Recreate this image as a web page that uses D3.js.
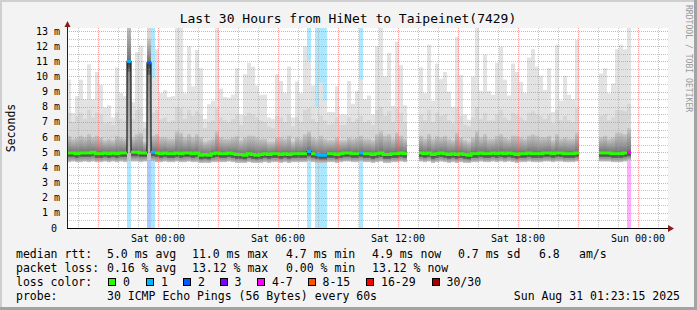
<!DOCTYPE html>
<html>
<head>
<meta charset="utf-8">
<title>Last 30 Hours from HiNet to Taipeinet(7429)</title>
<script src="https://cdn.jsdelivr.net/npm/d3@7"></script>
<style>
  body { margin: 0; background: #f3f3f3; }
  text { font-family: "DejaVu Sans Mono", monospace; fill: #000; }
</style>
</head>
<body>
<svg id="chart" width="697" height="310"></svg>
<script>
// one value per 12 minute bin, first bin starts Fri 19:27
var binStart = new Date(2025, 7, 29, 19, 27);
var binMinutes = 12;

// top of the smoke (slowest ping), ms
var maxMs = [
  9.8,7.6,8.7,9.8,8.5,10.8,8.5,10.3,9.45,7.95,
  8.1,7.3,10.6,8.9,8.7,15,8.3,11.6,12.05,7.0,
  15,9.9,11.8,8.9,9.1,8.65,8.7,13.5,13.5,8.9,
  12.0,9.35,11.75,10.55,7.2,8.17,8.4,13.5,9.2,8.65,
  8.6,8.8,10.55,7.5,10.15,10.9,10.65,9.4,8.8,8.8,
  7.3,7.2,10.15,9.7,8.9,10.65,7.3,9.67,8.9,12.0,
  11.05,9.4,8.0,9.6,8.4,7.65,7.65,9.35,7.5,7.5,
  9.7,8.2,9.05,9.8,8.5,8.75,7.5,12.0,13.5,10.0,
  11.55,8.07,12.3,10.75,8.1,null,null,null,10.6,8.9,
  12.1,8.4,10.85,9.85,10.3,9.0,8.0,12.6,10.1,7.5,
  7.15,10.0,13.5,9.05,11.45,9.05,8.8,10.9,11.97,9.8,
  8.75,10.85,10.3,9.65,8.9,11.25,11.8,10.65,10.05,9.1,
  10.55,7.65,12.1,8.4,10.05,8.8,8.5,12.4,null,null,
  null,null,null,10.2,10.55,8.9,9.55,11.8,12.1,11.8,
  13.5
];
var p90Ms = [
  7.6,7.0,7.4,7.6,7.2,7.8,7.3,7.6,7.5,6.9,
  7.0,6.8,7.6,7.2,7.1,14,7.2,7.8,7.9,6.6,
  14,7.6,7.8,7.2,7.3,7.0,7.1,8.0,7.9,7.2,
  7.8,7.4,7.7,7.5,6.6,7.0,7.1,7.9,7.3,7.1,
  7.0,7.2,7.5,6.8,7.4,7.6,7.5,7.3,7.1,7.0,
  6.7,6.6,7.4,7.3,7.0,7.5,6.7,7.3,7.0,7.8,
  7.9,7.2,7.0,7.4,7.1,6.8,6.9,7.3,6.8,6.8,
  7.3,7.0,7.2,7.4,7.0,7.1,6.8,7.8,8.0,7.4,
  7.7,7.0,7.9,7.6,7.0,null,null,null,7.5,7.1,
  7.8,7.0,7.6,7.4,7.5,7.1,6.9,7.9,7.4,6.8,
  6.7,7.3,8.0,7.2,7.6,7.1,7.1,7.5,7.8,7.3,
  7.1,7.6,7.5,7.3,7.1,7.6,7.7,7.5,7.4,7.2,
  7.5,6.9,7.8,7.1,7.4,7.1,7.0,7.9,null,null,
  null,null,null,7.4,7.5,7.1,7.3,7.8,7.8,7.7,
  8.2
];
var p75Ms = [
  6.1,5.9,6.0,6.1,6.0,6.2,6.0,6.1,6.0,5.8,
  5.9,5.8,6.1,6.0,5.9,13.5,6.0,6.2,6.3,5.7,
  12.5,6.1,6.2,6.0,6.0,5.9,5.9,6.4,6.3,6.0,
  6.2,6.0,6.2,6.0,5.7,5.8,5.9,6.4,6.0,5.9,
  5.9,6.0,6.1,5.8,6.0,6.1,6.1,6.0,5.9,5.9,
  5.7,5.7,6.0,6.0,5.9,6.1,5.7,6.0,5.9,6.2,
  6.4,6.0,5.9,6.1,5.9,5.8,5.8,6.0,5.8,5.8,
  6.0,5.9,6.0,6.1,5.9,5.9,5.8,6.2,6.4,6.1,
  6.2,5.9,6.3,6.1,5.9,null,null,null,6.1,5.9,
  6.2,5.9,6.1,6.0,6.1,5.9,5.8,6.3,6.0,5.8,
  5.7,6.0,6.4,6.0,6.2,5.9,5.9,6.1,6.2,6.0,
  5.9,6.1,6.1,6.0,5.9,6.1,6.2,6.1,6.0,6.0,
  6.1,5.8,6.2,5.9,6.0,5.9,5.9,6.3,null,null,
  null,null,null,6.0,6.1,5.9,6.0,6.3,6.3,6.2,
  6.6
];
var medianMs = [
  4.95,4.95,4.9,4.95,4.95,4.95,5.0,4.9,4.9,4.95,
  4.9,4.95,4.9,4.95,4.95,11.0,5.0,5.0,4.95,4.95,
  10.9,5.0,4.95,4.9,4.95,4.9,4.9,4.95,4.9,4.95,
  4.95,4.9,4.95,4.8,4.85,4.8,4.9,4.95,4.9,4.9,
  4.95,4.9,4.85,4.85,4.8,4.9,4.85,4.8,4.85,4.9,
  4.85,4.9,4.9,4.85,4.9,4.85,4.9,4.9,4.9,4.9,
  5.05,4.9,4.85,4.8,4.8,4.9,4.9,4.85,4.9,4.95,
  4.95,4.9,4.9,4.95,4.9,4.9,4.85,4.9,4.95,4.85,
  4.85,4.9,4.9,4.95,4.9,null,null,null,4.95,4.9,
  4.95,4.85,4.9,4.95,4.9,4.85,4.9,4.85,4.9,4.85,
  4.8,4.9,4.9,4.95,4.9,4.9,4.95,4.9,4.95,4.9,
  4.95,4.9,4.85,4.9,4.9,4.95,4.9,4.9,4.9,4.95,
  4.95,4.9,4.95,4.95,4.9,4.9,4.9,4.95,null,null,
  null,null,null,4.95,4.95,4.95,4.9,4.9,4.9,4.95,
  5.0
];
var p25Ms = [
  4.65,4.65,4.6,4.65,4.65,4.65,4.7,4.6,4.6,4.65,
  4.6,4.65,4.6,4.65,4.65,10.3,4.7,4.7,4.65,4.65,
  10.1,4.7,4.65,4.6,4.65,4.6,4.6,4.65,4.6,4.65,
  4.65,4.6,4.65,4.5,4.55,4.5,4.6,4.65,4.6,4.6,
  4.65,4.6,4.55,4.55,4.5,4.6,4.55,4.5,4.55,4.6,
  4.55,4.6,4.6,4.55,4.6,4.55,4.6,4.6,4.6,4.6,
  4.7,4.6,4.55,4.5,4.5,4.6,4.6,4.55,4.6,4.65,
  4.65,4.6,4.6,4.65,4.6,4.6,4.55,4.6,4.65,4.55,
  4.55,4.6,4.6,4.65,4.6,null,null,null,4.65,4.6,
  4.65,4.55,4.6,4.65,4.6,4.55,4.6,4.55,4.6,4.55,
  4.5,4.6,4.6,4.65,4.6,4.6,4.65,4.6,4.65,4.6,
  4.65,4.6,4.55,4.6,4.6,4.65,4.6,4.6,4.6,4.65,
  4.65,4.6,4.65,4.65,4.6,4.6,4.6,4.65,null,null,
  null,null,null,4.65,4.65,4.65,4.6,4.6,4.6,4.65,
  4.7
];
var minMs = [
  4.35,4.4,4.35,4.35,4.4,4.35,4.4,4.35,4.35,4.4,
  4.35,4.4,4.35,4.4,4.35,4.45,4.4,4.4,4.35,4.4,
  4.5,4.4,4.35,4.35,4.4,4.35,4.35,4.4,4.35,4.35,
  4.4,4.35,4.35,4.3,4.3,4.3,4.35,4.35,4.35,4.35,
  4.4,4.35,4.3,4.3,4.3,4.35,4.3,4.3,4.3,4.35,
  4.3,4.35,4.35,4.3,4.35,4.3,4.35,4.35,4.35,4.35,
  4.4,4.35,4.3,4.3,4.3,4.35,4.35,4.3,4.35,4.4,
  4.4,4.35,4.35,4.4,4.35,4.35,4.3,4.35,4.4,4.3,
  4.3,4.35,4.35,4.4,4.35,null,null,null,4.4,4.35,
  4.4,4.3,4.35,4.4,4.35,4.3,4.35,4.3,4.35,4.3,
  4.3,4.35,4.35,4.4,4.35,4.35,4.4,4.35,4.4,4.35,
  4.4,4.35,4.3,4.35,4.35,4.4,4.35,4.35,4.35,4.4,
  4.4,4.35,4.4,4.4,4.35,4.35,4.35,4.4,null,null,
  null,null,null,4.4,4.4,4.4,4.35,4.35,4.35,4.4,
  4.45
];
// lost pings out of 30 per bin
var lossCount = [
  0,0,0,0,0,0,0,0,0,0,
  0,0,0,0,0,1,0,0,0,0,
  2,1,0,0,0,0,0,0,0,0,
  0,0,0,0,0,0,0,0,0,0,
  0,0,0,0,0,0,0,0,0,0,
  0,0,0,0,0,0,0,0,0,0,
  1,0,1,1,1,0,0,0,0,0,
  0,0,0,1,0,0,0,0,0,0,
  0,0,0,0,0,null,null,null,0,0,
  0,0,0,0,0,0,0,0,0,0,
  0,0,0,0,0,0,0,0,0,0,
  0,0,0,0,0,0,0,0,0,0,
  0,0,0,0,0,0,0,0,null,null,
  null,null,null,0,0,0,0,0,0,0,
  4
];

var lossLabels = ["0", "1", "2", "3", "4-7", "8-15", "16-29", "30/30"];
var lossColors = ["#26ff00", "#00b8ff", "#0059ff", "#7e00ff", "#ff00ff", "#ff5500", "#ff0000", "#a10000"];
var lossUpper = [0, 1, 2, 3, 7, 15, 29, 30];
var yTicks = [0,1,2,3,4,5,6,7,8,9,10,11,12,13];

var statRows = [
  ["median rtt:", "5.0 ms avg", "11.0 ms max", "4.7 ms min", "4.9 ms now", "0.7 ms sd", "6.8", "am/s"],
  ["packet loss:", "0.16 % avg", "13.12 % max", "0.00 % min", "13.12 % now"]
];
var statX = [16, 107, 192, 286, 372, 458, 539, 579];

var svg = d3.select("#chart");
var W = 697, H = 310;
var pL = 67, pR = 668, pT = 28, pB = 228;

var x = d3.scaleTime()
  .domain([new Date(2025, 7, 29, 19, 30), new Date(2025, 7, 31, 1, 30)])
  .range([68, 668]);
var y = d3.scaleLinear().domain([0, 13.2]).range([pB, pT]);

function binT(i) { return new Date(+binStart + i * binMinutes * 60000); }
function x0(i) { return x(binT(i)); }
function x1(i) { return x(binT(i + 1)); }
function lossClass(n) {
  for (var k = 0; k < lossUpper.length; k++) if (n <= lossUpper[k]) return k;
  return lossUpper.length - 1;
}

// frame
svg.append("rect").attr("width", W).attr("height", H).attr("fill", "#f3f3f3");
svg.append("rect").attr("x", 0).attr("y", 0).attr("width", W).attr("height", 2).attr("fill", "#cfcfcf");
svg.append("rect").attr("x", 0).attr("y", 0).attr("width", 2).attr("height", H).attr("fill", "#cfcfcf");
svg.append("rect").attr("x", 0).attr("y", H - 3).attr("width", W).attr("height", 3).attr("fill", "#a3a3a3");
svg.append("rect").attr("x", W - 3).attr("y", 0).attr("width", 3).attr("height", H).attr("fill", "#a3a3a3");

var defs = svg.append("defs");
defs.append("clipPath").attr("id", "plotclip")
  .append("rect").attr("x", pL).attr("y", pT).attr("width", pR - pL).attr("height", pB - pT);
function grad(id, c0, c1) {
  var g = defs.append("linearGradient").attr("id", id)
    .attr("x1", 0).attr("y1", 0).attr("x2", 0).attr("y2", 1);
  g.append("stop").attr("offset", 0).attr("stop-color", c0);
  g.append("stop").attr("offset", 1).attr("stop-color", c1);
}
grad("gUp", "#c8c8c8", "#707070");
grad("gDown", "#3c3c3c", "#6e6e6e");
grad("gLow", "#8a8a8a", "#c6c6c6");

svg.append("rect").attr("x", pL).attr("y", pT).attr("width", pR - pL)
  .attr("height", pB - pT).attr("fill", "#fff");

var plot = svg.append("g").attr("clip-path", "url(#plotclip)");
var idx = d3.range(medianMs.length).filter(function (i) { return medianMs[i] != null; });

// loss background strips
plot.append("g").selectAll("rect")
  .data(idx.filter(function (i) { return lossCount[i] > 0; }))
  .join("rect")
  .attr("x", x0).attr("width", function (i) { return x1(i) - x0(i); })
  .attr("y", pT).attr("height", pB - pT)
  .attr("fill", function (i) { return lossColors[lossClass(lossCount[i])]; })
  .attr("fill-opacity", 0.33);

// smoke
var bands = [
  [minMs, maxMs, "#e3e3e3"],
  [minMs, p90Ms, "#d6d6d6"],
  [medianMs, p75Ms, "url(#gUp)"],
  [p25Ms, medianMs, "url(#gDown)"],
  [minMs, p25Ms, "url(#gLow)"]
];
bands.forEach(function (b) {
  plot.append("g").selectAll("rect").data(idx).join("rect")
    .attr("x", x0).attr("width", function (i) { return x1(i) - x0(i); })
    .attr("y", function (i) { return y(b[1][i]); })
    .attr("height", function (i) { return Math.max(0, y(b[0][i]) - y(b[1][i])); })
    .attr("fill", b[2]);
});

// grid on top of the smoke
var grid = svg.append("g").attr("shape-rendering", "crispEdges");
var hMinor = d3.range(0.5, 13.2, 1);
var hours = x.ticks(d3.timeHour.every(1));
function hLines(data, color) {
  grid.append("g").selectAll("line").data(data).join("line")
    .attr("x1", pL).attr("x2", pR)
    .attr("y1", function (d) { return Math.round(y(d)) + 0.5; })
    .attr("y2", function (d) { return Math.round(y(d)) + 0.5; })
    .attr("stroke", color).attr("stroke-opacity", 0.6).attr("stroke-dasharray", "1,1");
}
function vLines(data, color) {
  grid.append("g").selectAll("line").data(data).join("line")
    .attr("x1", function (d) { return Math.round(x(d)) + 0.5; })
    .attr("x2", function (d) { return Math.round(x(d)) + 0.5; })
    .attr("y1", pT).attr("y2", pB)
    .attr("stroke", color).attr("stroke-opacity", 0.6).attr("stroke-dasharray", "1,1");
}
hLines(hMinor, "#a0a0a0");
vLines(hours.filter(function (d) { return d.getHours() % 3 !== 0; }), "#a0a0a0");
hLines(yTicks.slice(1), "#ff5f5f");
vLines(hours.filter(function (d) { return d.getHours() % 3 === 0; }), "#ff5f5f");

// median: thin dark step line, then loss coloured thick line
function runs(keyFn) {
  var out = [], cur = null;
  idx.forEach(function (i) {
    var k = keyFn(i);
    if (cur && cur.last === i - 1 && cur.key === k) { cur.bins.push(i); cur.last = i; }
    else { cur = { key: k, bins: [i], last: i }; out.push(cur); }
  });
  return out;
}
function stepPath(bins) {
  var p = "";
  bins.forEach(function (i, j) {
    var yy = y(medianMs[i]);
    p += (j === 0 ? "M" + x0(i) + "," + yy : "V" + yy) + "H" + x1(i);
  });
  return p;
}
var medG = svg.append("g");
medG.append("g").selectAll("path").data(runs(function () { return 0; })).join("path")
  .attr("d", function (r) { return stepPath(r.bins); })
  .attr("fill", "none").attr("stroke", "#1a1a1a").attr("stroke-width", 1.2);
medG.append("g").selectAll("path").data(runs(function (i) { return lossClass(lossCount[i]); })).join("path")
  .attr("d", function (r) { return stepPath(r.bins); })
  .attr("fill", "none").attr("stroke", function (r) { return lossColors[r.key]; })
  .attr("stroke-width", 3);

// axes
var ax = svg.append("g").attr("shape-rendering", "crispEdges");
ax.append("line").attr("x1", pL + 0.5).attr("x2", pL + 0.5).attr("y1", pB).attr("y2", 23)
  .attr("stroke", "#222");
ax.append("line").attr("x1", pL).attr("x2", 671).attr("y1", pB + 0.5).attr("y2", pB + 0.5)
  .attr("stroke", "#000");
svg.append("path").attr("d", "M64.5,27L67.5,21L70.5,27Z").attr("fill", "#8b1a1a");
svg.append("path").attr("d", "M668,225L674,228.5L668,232Z").attr("fill", "#8b1a1a");

svg.append("g").selectAll("text").data(yTicks).join("text")
  .attr("x", function (d) { return d === 0 ? 57 : 60; })
  .attr("y", function (d) { return y(d) + 3.5; })
  .attr("text-anchor", "end").attr("font-size", 10)
  .text(function (d) { return d === 0 ? "0" : d + " m"; });

var labelTimes = hours.filter(function (d) { return d.getHours() % 6 === 0; });
var fmt = d3.timeFormat("%a %H:%M");
svg.append("g").selectAll("text").data(labelTimes).join("text")
  .attr("x", function (d) { return x(d); }).attr("y", 241.5)
  .attr("text-anchor", "middle").attr("font-size", 10)
  .text(fmt);

svg.append("text").attr("transform", "translate(15,128) rotate(-90)")
  .attr("text-anchor", "middle").attr("font-size", 11.5).text("Seconds");

svg.append("text").attr("x", 348).attr("y", 23).attr("text-anchor", "middle")
  .attr("font-size", 13).text("Last 30 Hours from HiNet to Taipeinet(7429)");

svg.append("text").attr("transform", "translate(686,5) rotate(90)")
  .attr("font-size", 8.1).style("fill", "#9a9a9a").text("RRDTOOL / TOBI OETIKER");

// legend
statRows.forEach(function (row, r) {
  row.forEach(function (s, c) {
    svg.append("text").attr("x", statX[c]).attr("y", 258 + r * 14)
      .attr("font-size", 11.5).text(s);
  });
});
svg.append("text").attr("x", 16).attr("y", 286).attr("font-size", 11.5).text("loss color:");
var swX = [108, 146, 183, 219.5, 257, 307.5, 366, 431.5];
lossLabels.forEach(function (lab, k) {
  svg.append("rect").attr("x", swX[k] + 0.5).attr("y", 278.5).attr("width", 7).attr("height", 7)
    .attr("fill", lossColors[k]).attr("stroke", "#000").attr("shape-rendering", "crispEdges");
  svg.append("text").attr("x", swX[k] + 15).attr("y", 286).attr("font-size", 11.5).text(lab);
});
svg.append("text").attr("x", 16).attr("y", 300).attr("font-size", 11.5).text("probe:");
svg.append("text").attr("x", 107).attr("y", 300).attr("font-size", 11.5)
  .text("30 ICMP Echo Pings (56 Bytes) every 60s");
svg.append("text").attr("x", 680).attr("y", 300).attr("text-anchor", "end").attr("font-size", 11.5)
  .text("Sun Aug 31 01:23:15 2025");
</script>
</body>
</html>
